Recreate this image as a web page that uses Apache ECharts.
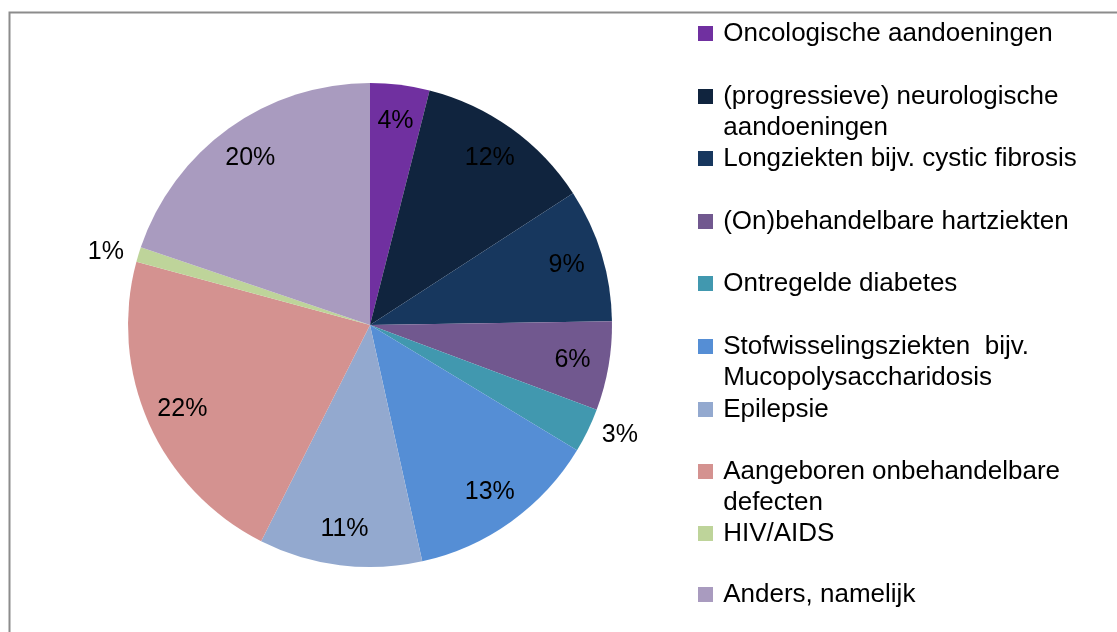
<!DOCTYPE html>
<html>
<head>
<meta charset="utf-8">
<script src="https://cdn.jsdelivr.net/npm/echarts@6/dist/echarts.min.js"></script>
<style>
  html, body { margin: 0; padding: 0; background: #fff; }
  #chart { width: 1117px; height: 632px; }
</style>
</head>
<body>
<div id="chart"></div>
<script>
// categories, legend text (with line breaks as in the picture), values in %
const categories = [
  "Oncologische aandoeningen",
  "(progressieve) neurologische aandoeningen",
  "Longziekten bijv. cystic fibrosis",
  "(On)behandelbare hartziekten",
  "Ontregelde diabetes",
  "Stofwisselingsziekten bijv. Mucopolysaccharidosis",
  "Epilepsie",
  "Aangeboren onbehandelbare defecten",
  "HIV/AIDS",
  "Anders, namelijk"
];
const legendLabels = [
  "Oncologische aandoeningen",
  "(progressieve) neurologische\naandoeningen",
  "Longziekten bijv. cystic fibrosis",
  "(On)behandelbare hartziekten",
  "Ontregelde diabetes",
  "Stofwisselingsziekten  bijv.\nMucopolysaccharidosis",
  "Epilepsie",
  "Aangeboren onbehandelbare\ndefecten",
  "HIV/AIDS",
  "Anders, namelijk"
];
const values = [4, 12, 9, 6, 3, 13, 11, 22, 1, 20];
const colors = [
  "#7030A0", "#10243E", "#17375E", "#71588F", "#4198AF",
  "#558ED5", "#93A9CF", "#D49290", "#BED49A", "#A99BBF"
];
// small slices get their label outside the pie
const outsideLabel = [false, false, false, false, true, false, false, false, true, false];

const FONT = "Liberation Sans";
const rowCenters = [32, 95, 157, 220, 282, 345, 408, 470, 532, 593];

const chart = echarts.init(document.getElementById("chart"));

const legends = categories.map((name, i) => {
  const twoLine = legendLabels[i].indexOf("\n") >= 0;
  // thin space widens the icon/text gap; a blank first line keeps the
  // icon level with the first text line on wrapped entries
  let text = legendLabels[i].split("\n").map(s => "\u2009" + s).join("\n");
  if (twoLine) text = " \n" + text;
  return {
    orient: "vertical",
    left: 698,
    top: twoLine ? rowCenters[i] - 45 : rowCenters[i] - 14,
    itemWidth: 15,
    itemHeight: 15,
    itemGap: 0,
    padding: 0,
    icon: "rect",
    selectedMode: false,
    data: [name],
    formatter: () => text,
    textStyle: {
      fontFamily: FONT,
      fontSize: 26,
      color: "#000",
      lineHeight: 31
    }
  };
});

const pieData = categories.map((name, i) => ({
  name: name,
  value: values[i],
  itemStyle: { color: colors[i] }
}));

const labelData = categories.map((name, i) => {
  const d = { name: name, value: values[i] };
  if (outsideLabel[i]) {
    d.label = { position: "outside" };
  }
  return d;
});

chart.setOption({
  backgroundColor: "#fff",
  animation: false,
  legend: legends,
  graphic: [{
    type: "rect",
    shape: { x: 9.5, y: 12.5, width: 1200, height: 700 },
    style: { fill: null, stroke: "#8c8c8c", lineWidth: 2 },
    silent: true
  }],
  series: [
    {
      type: "pie",
      center: [370, 325],
      radius: [0, 242],
      startAngle: 90,
      clockwise: true,
      silent: true,
      label: { show: false },
      labelLine: { show: false },
      data: pieData
    },
    {
      // transparent ring that only carries the percentage labels
      type: "pie",
      center: [370, 325],
      radius: [163, 242],
      startAngle: 90,
      clockwise: true,
      silent: true,
      itemStyle: { color: "transparent" },
      emphasis: { disabled: true },
      label: {
        show: true,
        position: "inside",
        formatter: "{c}%",
        fontFamily: FONT,
        fontSize: 25,
        color: "#000"
      },
      labelLine: { show: false, length: 10, length2: 0 },
      data: labelData
    }
  ]
});
</script>
</body>
</html>
